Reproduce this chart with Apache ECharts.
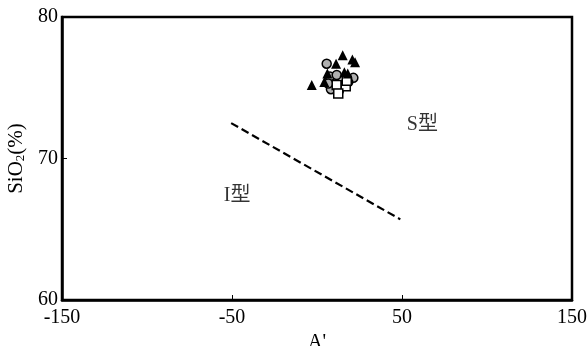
<!DOCTYPE html>
<html><head><meta charset="utf-8">
<script src="https://cdn.jsdelivr.net/npm/echarts@6/dist/echarts.min.js"></script>
<style>html,body{margin:0;padding:0;background:#fff}#c{width:588px;height:346px}</style>
</head><body><div id="c"></div>
<script>
const xTicks = [-150, -50, 50, 150];
const yTicks = [60, 70, 80];
const triangles = [[15.1,77.3],[20.8,77.0],[22.4,76.8],[11.2,76.7],[-3.1,75.2],[6.1,76.0],[16.1,76.1],[4.3,75.4],[18.1,76.0]];
const circles = [[5.7,76.7],[7.6,75.8],[11.6,75.9],[21.4,75.7],[18.4,75.4],[8.2,74.9],[12.9,74.8],[6.6,75.3]];
const squares = [[11.6,75.2],[16.9,75.1],[12.5,74.6],[17.5,75.5]];
const dividerLine = [[-50.5,72.5],[49,65.7]];
const fieldLabels = [{name:'S型', value:[62,72.4]},{name:'I型', value:[-47,67.4]}];

const font = '"Liberation Serif","Noto Sans CJK SC",serif';
const chart = echarts.init(document.getElementById('c'));
chart.setOption({
  animation:false,
  grid:{left:62,right:16,top:17,bottom:46,containLabel:false,outerBoundsMode:'none',show:true,borderColor:'#000',borderWidth:2.5,backgroundColor:'transparent'},
  xAxis:{type:'value',min:-150,max:150,interval:100,
    name:"A'",nameLocation:'middle',nameGap:30,nameTextStyle:{fontFamily:font,fontSize:20,color:'#000'},
    axisLine:{show:true,onZero:false,lineStyle:{color:'#000',width:2.5}},
    axisTick:{show:true,inside:true,length:5,lineStyle:{color:'#000',width:1}},
    axisLabel:{fontFamily:font,fontSize:20,color:'#000',margin:8},
    splitLine:{show:false}},
  yAxis:{type:'value',min:60,max:80,interval:10,
    name:'{a|SiO}{s|2}{a|(%)}',nameLocation:'middle',nameGap:28,
    nameTextStyle:{rich:{a:{fontFamily:font,fontSize:21,color:'#000'},s:{fontFamily:font,fontSize:13,color:'#000',verticalAlign:'bottom',padding:[9,0,0,0]}}},
    axisLine:{show:true,onZero:false,lineStyle:{color:'#000',width:2.5}},
    axisTick:{show:true,inside:true,length:5,lineStyle:{color:'#000',width:1}},
    axisLabel:{fontFamily:font,fontSize:20,color:'#000',margin:4},
    splitLine:{show:false}},
  series:[
    {type:'line',data:dividerLine,symbol:'none',lineStyle:{color:'#000',width:2.2,type:[8,4]},silent:true},
    {type:'scatter',data:circles,symbol:'circle',symbolSize:9,itemStyle:{color:'#b0b0b0',borderColor:'#000',borderWidth:1.5,opacity:1}},
    {type:'scatter',data:squares,symbol:'rect',symbolSize:9,itemStyle:{color:'#fff',borderColor:'#000',borderWidth:1.5,opacity:1}},
    {type:'scatter',data:triangles,symbol:'triangle',symbolSize:10,itemStyle:{color:'#000',opacity:1}},
    {type:'scatter',data:fieldLabels,symbolSize:0,label:{show:true,position:'inside',formatter:p=>p.name,fontFamily:font,fontSize:20,color:'#000'}}
  ]
});
</script></body></html>
